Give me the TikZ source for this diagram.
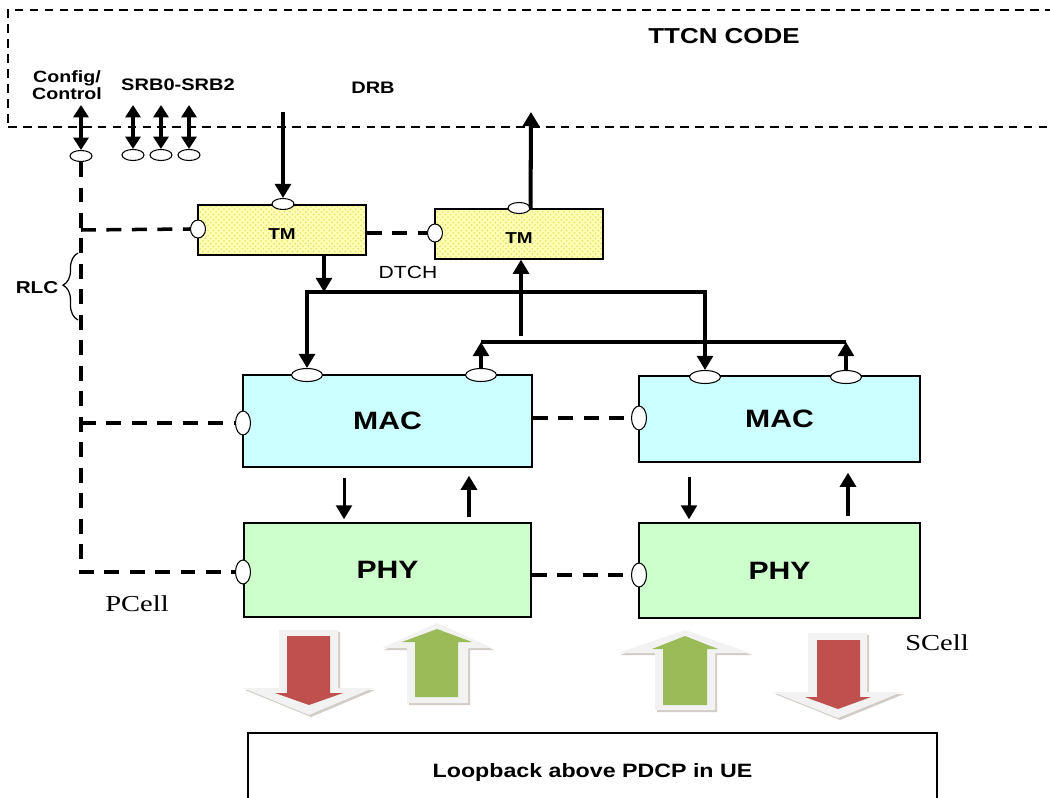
\documentclass[tikz,border=0pt]{standalone}
\usepackage{fontspec}
\setmainfont{Liberation Sans}
\newfontfamily\sfw[FakeStretch=1.2]{Liberation Sans}
\newfontfamily\serw[FakeStretch=1.25]{Liberation Serif}
\usetikzlibrary{arrows.meta,shapes.geometric,decorations.pathreplacing,calc,patterns}
\definecolor{macfill}{HTML}{CCFFFF}
\definecolor{phyfill}{HTML}{CCFFCC}
\definecolor{tmfill}{HTML}{FFFFB4}
\definecolor{tmhatch}{HTML}{E8DC60}
\definecolor{redarr}{HTML}{C0504D}
\definecolor{greenarr}{HTML}{9BBB59}
\definecolor{outl}{HTML}{F2F2F2}
\definecolor{shad}{HTML}{D2CCC6}
\tikzset{
  layerbox/.style={draw, line width=0.8pt, inner sep=0pt},
  ttcnbox/.style={draw, line width=1.1pt, dash pattern=on 5pt off 3.5pt, inner sep=0pt},
  lbl/.style={font=\sfw\bfseries\fontsize{9.5}{9.5}\selectfont, align=center, inner sep=0pt},
  biglbl/.style={font=\sfw\bfseries\fontsize{14.3}{16}\selectfont},
  tmlbl/.style={font=\sfw\bfseries\fontsize{9}{10}\selectfont},
  cell/.style={font=\serw\fontsize{13}{15}\selectfont, inner sep=0pt},
  port/.style={draw, ellipse, fill=white, line width=0.6pt, inner sep=0pt},
  hport/.style={port, minimum width=0.44cm, minimum height=0.22cm},
  mport/.style={port, minimum width=0.62cm, minimum height=0.26cm},
  vport/.style={port, minimum width=0.3cm, minimum height=0.36cm},
  vmport/.style={port, minimum width=0.3cm, minimum height=0.48cm},
  flow/.style={line width=2.3pt, -{Triangle[length=8pt,width=9pt]}},
  dflow/.style={line width=1.9pt, {Triangle[length=7pt,width=8.5pt]}-{Triangle[length=7pt,width=8.5pt]}},
  bus/.style={line width=1.8pt},
  lflow/.style={line width=1.8pt, -{Triangle[length=8pt,width=9pt]}},
  uflow/.style={line width=2.3pt, -{Triangle[length=8pt,width=9pt]}},
  dnflow/.style={line width=1.7pt, -{Triangle[length=8pt,width=9pt]}},
  ctl/.style={line width=2pt, dash pattern=on 8.5pt off 6pt},
  blkshadow/.style={fill=shad},
  blkout/.style={fill=outl},
}
\begin{document}
\begin{tikzpicture}[x=0.02cm, y=-0.02cm]
\useasboundingbox (0,0) rectangle (1050,797);
\fill[white] (0,0) rectangle (1050,797);

% TTCN area
\node[ttcnbox, minimum width=21.24cm, minimum height=2.34cm] (ttcn) at (539,68.5) {};
\node[font=\sfw\bfseries\fontsize{12.3}{14}\selectfont] (ttcnlbl) at (724,36) {TTCN CODE};
\node[lbl, font=\sfw\bfseries\fontsize{9.3}{9.3}\selectfont] (cfglbl) at (67,85) {Config/\\Control};
\node[lbl] (srblbl) at (178,85) {SRB0-SRB2};
\node[lbl] (drblbl) at (373,88) {DRB};

% Boxes
\node[layerbox, preaction={fill=tmfill}, pattern=crosshatch dots, pattern color=tmhatch,
      minimum width=3.36cm, minimum height=1.0cm] (tm1) at (282,230) {};
\node[tmlbl] (tm1lbl) at (282,234) {TM};
\node[layerbox, preaction={fill=tmfill}, pattern=crosshatch dots, pattern color=tmhatch,
      minimum width=3.36cm, minimum height=1.0cm] (tm2) at (519,234) {};
\node[tmlbl] (tm2lbl) at (519,238) {TM};
\node[layerbox, fill=macfill, minimum width=5.78cm, minimum height=1.84cm, biglbl] (mac1) at (387.5,421) {MAC};
\node[layerbox, fill=macfill, minimum width=5.62cm, minimum height=1.72cm, biglbl] (mac2) at (779.5,419) {MAC};
\node[layerbox, fill=phyfill, minimum width=5.74cm, minimum height=1.88cm, biglbl] (phy1) at (387.5,570) {PHY};
\node[layerbox, fill=phyfill, minimum width=5.62cm, minimum height=1.9cm, biglbl] (phy2) at (779.5,570.5) {PHY};
\node[layerbox, minimum width=13.78cm, minimum height=1.56cm,
      font=\sfw\bfseries\fontsize{11}{13}\selectfont] (loop) at (592.5,772) {Loopback above PDCP in UE};

% Ports
\node[hport] (ecfg) at (81,156) {};
\node[hport] (es1) at (133,155) {};
\node[hport] (es2) at (161,155) {};
\node[hport] (es3) at (189,155) {};
\node[hport] (etm1t) at (283,204) {};
\node[vport] (etm1l) at (198,229) {};
\node[hport] (etm2t) at (519,208) {};
\node[vport] (etm2l) at (435,233) {};
\node[mport] (em1a) at (307,375) {};
\node[mport] (em1b) at (481,375) {};
\node[mport] (em2a) at (705,377) {};
\node[mport] (em2b) at (846,377) {};
\node[vmport] (em1l) at (243,423) {};
\node[vmport] (em2l) at (639,418) {};
\node[vmport] (ep1l) at (243,572) {};
\node[vmport] (ep2l) at (639,575) {};

% Coordinates
\coordinate (cfgtop) at (81,105);
\coordinate (s1top) at (133,105);
\coordinate (s2top) at (161,105);
\coordinate (s3top) at (189,105);
\coordinate (drbtop) at (283,112);
\coordinate (uptop) at (531,112);
\coordinate (j1) at (324,292);
\coordinate (hl) at (307,292);
\coordinate (hr) at (705,292);
\coordinate (h2l) at (481,342);
\coordinate (h2r) at (846,342);
\coordinate (v2) at (521,336);
\coordinate (b1) at (81,230);
\coordinate (b2) at (81,423);

% Upper arrows
\draw[dflow] (cfgtop) -- (ecfg.north);
\draw[dflow] (s1top) -- (es1.north);
\draw[dflow] (s2top) -- (es2.north);
\draw[dflow] (s3top) -- (es3.north);
\draw[flow] (drbtop) -- (etm1t.north);
\draw[flow] (etm2t.east) -- (uptop);

% DTCH bus
\draw[lflow] (tm1.south -| j1) -- (j1);
\draw[bus, {Triangle[length=8pt,width=9pt]}-{Triangle[length=8pt,width=9pt]}]
  (em1a.north) -- (hl) -- (hr) -- (em2a.north);
\draw[bus] (h2l) -- (h2r);
\draw[lflow] (em1b.north) -- (h2l);
\draw[lflow] (em2b.north) -- (h2r);
\draw[lflow] (v2) -- (v2 |- tm2.south);
\node[font=\sfw\fontsize{10}{12}\selectfont] (dtch) at (408,272) {DTCH};

% MAC <-> PHY
\draw[dnflow] ($(mac1.south)+(-43.5,10)$) -- ($(phy1.north)+(-43.5,-3)$);
\draw[uflow] ($(phy1.north)+(81.5,-5)$) -- ($(mac1.south)+(81.5,8)$);
\draw[dnflow] ($(mac2.south)+(-90.5,14)$) -- ($(phy2.north)+(-90.5,-3)$);
\draw[uflow] ($(phy2.north)+(68.5,-6)$) -- ($(mac2.south)+(68.5,10)$);

% Control (dashed)
\draw[ctl] (ecfg.south) |- (ep1l.west);
\draw[ctl] (b1) -- (etm1l.west);
\draw[ctl] (b2) -- (em1l.west);
\draw[ctl] (tm1.east |- etm2l) -- (etm2l.west);
\draw[ctl] (mac1.east |- em2l) -- (em2l.west);
\draw[ctl] (phy1.east |- ep2l) -- (ep2l.west);

% RLC brace
\draw[line width=0.7pt, decorate, decoration={brace, amplitude=0.3cm, aspect=0.52}] (78,320) -- (78,253);
\node[lbl, font=\sfw\bfseries\fontsize{9.8}{10}\selectfont] (rlc) at (37,288) {RLC};

% Cell labels
\node[cell] (pcell) at (137,604) {PCell};
\node[cell] (scell) at (937,643) {SCell};

% Block arrows: PCell down (red)
\fill[blkshadow] (281,632) -- (340,632) -- (340,690) -- (375,690) -- (311,717) -- (245,690) -- (281,690) -- cycle;
\fill[blkout] (279,630) -- (338,630) -- (338,688) -- (373,688) -- (309,715) -- (243,688) -- (279,688) -- cycle;
\fill[redarr] (287,636) -- (330,636) -- (330,693) -- (343,693) -- (309,705) -- (275,693) -- (287,693) -- cycle;
% PCell up (green)
\fill[blkshadow] (439,625) -- (494,650) -- (470,650) -- (470,705) -- (409,705) -- (409,650) -- (384,650) -- cycle;
\fill[blkout] (437,623) -- (492,648) -- (468,648) -- (468,703) -- (407,703) -- (407,648) -- (382,648) -- cycle;
\fill[greenarr] (437,629) -- (472,642) -- (458,642) -- (458,697) -- (415,697) -- (415,642) -- (402,642) -- cycle;
% SCell up (green)
\fill[blkshadow] (687,632) -- (752,655) -- (717,655) -- (717,712) -- (657,712) -- (657,655) -- (620,655) -- cycle;
\fill[blkout] (685,630) -- (750,653) -- (715,653) -- (715,710) -- (655,710) -- (655,653) -- (618,653) -- cycle;
\fill[greenarr] (685,636) -- (718,649) -- (707,649) -- (707,705) -- (663,705) -- (663,649) -- (652,649) -- cycle;
% SCell down (red)
\fill[blkshadow] (810,635) -- (869,635) -- (869,694) -- (904,694) -- (840,720) -- (775,694) -- (810,694) -- cycle;
\fill[blkout] (808,633) -- (867,633) -- (867,692) -- (902,692) -- (838,718) -- (773,692) -- (808,692) -- cycle;
\fill[redarr] (817,640) -- (860,640) -- (860,697) -- (871,697) -- (838,709) -- (805,697) -- (817,697) -- cycle;
\end{tikzpicture}
\end{document}
